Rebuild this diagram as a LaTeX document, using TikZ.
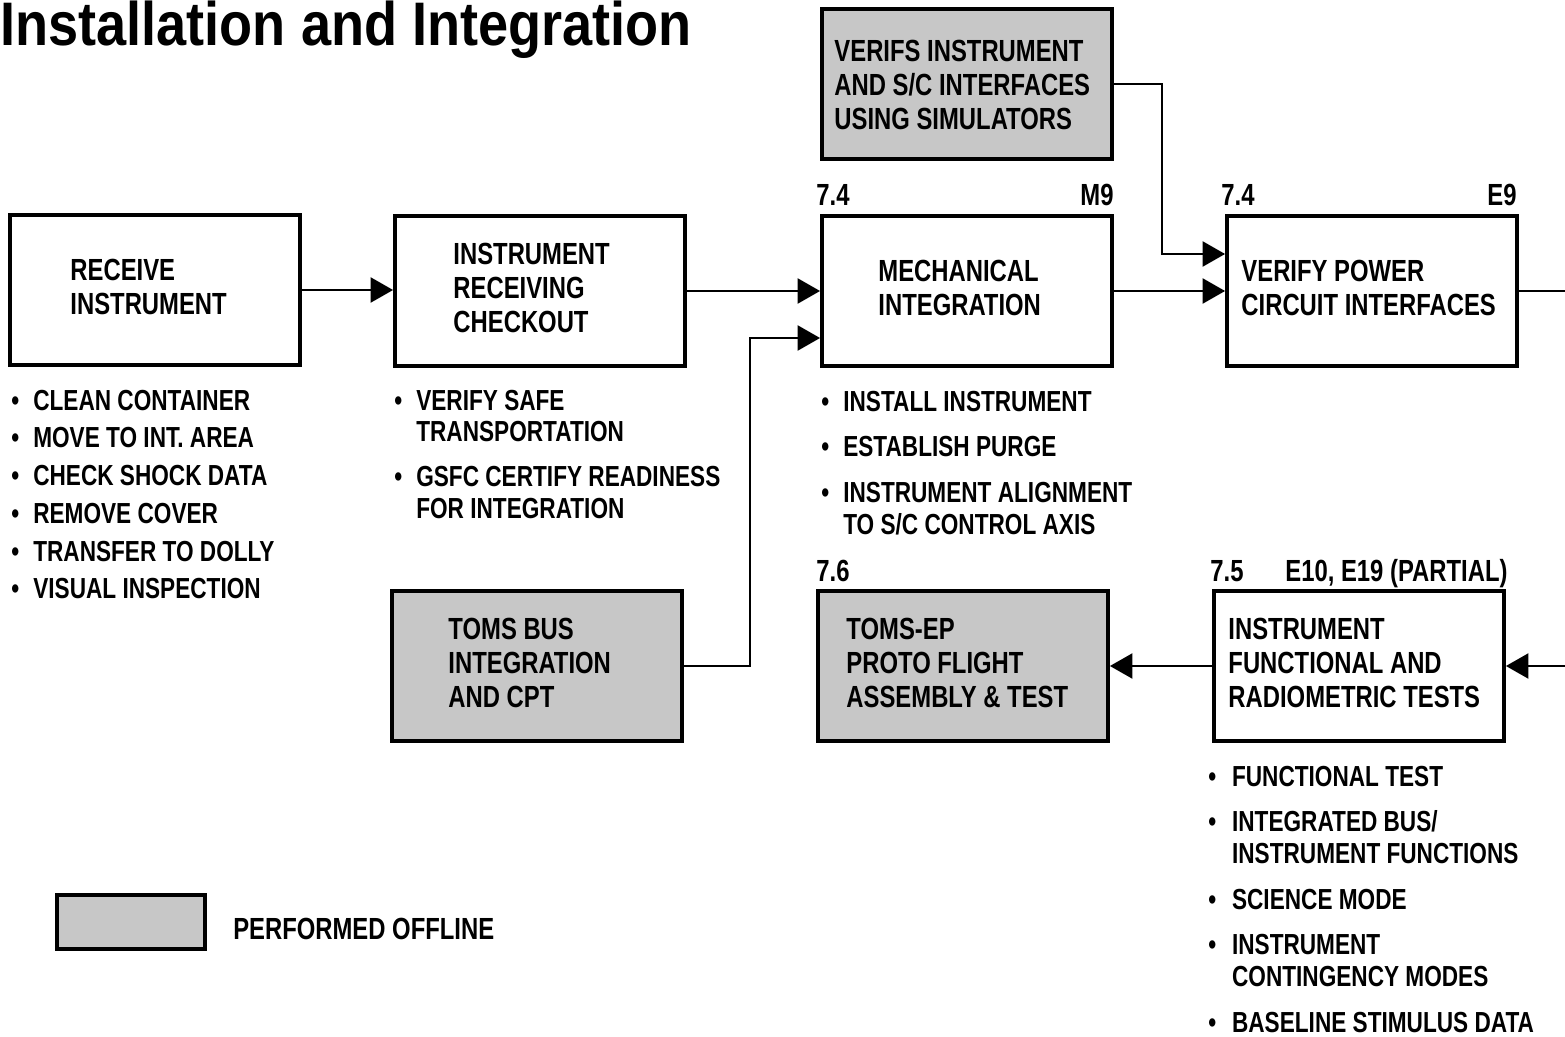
\documentclass[tikz,border=0pt]{standalone}
\usepackage{fontspec}
\setmainfont{Liberation Sans}[FakeStretch=0.78]
\newfontfamily\titlefont{Liberation Sans}[FakeStretch=0.88]
\usetikzlibrary{arrows.meta,calc,positioning}

\begin{document}
\begin{tikzpicture}[x=0.02cm,y=-0.02cm,
	stepbox/.style={draw,line width=2.2pt,minimum width=5.8cm,minimum height=3cm,inner sep=0pt},
	offbox/.style={stepbox,fill=black!22},
	boxtxt/.style={anchor=west,align=left,inner sep=0pt,font=\bfseries\fontsize{17.4}{19.6}\selectfont},
	tag/.style={inner sep=0pt,font=\bfseries\fontsize{17.4}{19.6}\selectfont},
	notes/.style={anchor=base west,inner sep=0pt,font=\bfseries\fontsize{16.5}{18.1}\selectfont},
	flow/.style={line width=1.3pt,-{Triangle[length=0.45cm,width=0.5cm]}},
	wire/.style={line width=1.3pt}]

\useasboundingbox (0,0) rectangle (1565,1037);

\node[anchor=base west,inner sep=0pt,font=\titlefont\bfseries\fontsize{35}{36}\selectfont] (title) at (0,46) {Installation and Integration};

\foreach \n/\x/\y in {recv/155/290,chk/540/291,mech/967/291,pwr/1372/291,func/1359/666}
	\node[stepbox] (\n) at (\x,\y) {};
\foreach \n/\x/\y in {sim/967/84,bus/537/666,ep/963/666}
	\node[offbox] (\n) at (\x,\y) {};

\node[boxtxt] (recvtxt) at ($(recv.west)+(62,-3)$) {RECEIVE\\INSTRUMENT};
\node[boxtxt] (chktxt) at ($(chk.west)+(60,-3)$) {INSTRUMENT\\RECEIVING\\CHECKOUT};
\node[boxtxt] (mechtxt) at ($(mech.west)+(58,-3)$) {MECHANICAL\\INTEGRATION};
\node[boxtxt] (pwrtxt) at ($(pwr.west)+(16,-3)$) {VERIFY POWER\\CIRCUIT INTERFACES};
\node[boxtxt] (simtxt) at ($(sim.west)+(14,1)$) {VERIFS INSTRUMENT\\AND S/C INTERFACES\\USING SIMULATORS};
\node[boxtxt] (bustxt) at ($(bus.west)+(58,-3)$) {TOMS BUS\\INTEGRATION\\AND CPT};
\node[boxtxt] (eptxt) at ($(ep.west)+(30,-3)$) {TOMS-EP\\PROTO FLIGHT\\ASSEMBLY \& TEST};
\node[boxtxt] (functxt) at ($(func.west)+(16,-3)$) {INSTRUMENT\\FUNCTIONAL AND\\RADIOMETRIC TESTS};

% step numbers
\node[tag,anchor=base west] (mechno) at ($(mech.north west)+(-4,-9)$) {7.4};
\node[tag,anchor=base east] (mechid) at ($(mech.north east)+(0,-9)$) {M9};
\node[tag,anchor=base west] (pwrno) at ($(pwr.north west)+(-4,-9)$) {7.4};
\node[tag,anchor=base east] (pwrid) at ($(pwr.north east)+(-2,-9)$) {E9};
\node[tag,anchor=base west] (epno) at ($(ep.north west)+(0,-8)$) {7.6};
\node[tag,anchor=base west] (funcno) at ($(func.north west)+(-2,-8)$) {7.5};
\node[tag,anchor=base east] (funcid) at ($(func.north east)+(2,-8)$) {E10, E19 (PARTIAL)};

\node[notes] (recvlist) at (11,410) {\begin{tabular}[t]{@{}l@{\hspace{8pt}}l@{}}
\textbullet & CLEAN CONTAINER\\[3.4pt]
\textbullet & MOVE TO INT. AREA\\[3.4pt]
\textbullet & CHECK SHOCK DATA\\[3.4pt]
\textbullet & REMOVE COVER\\[3.4pt]
\textbullet & TRANSFER TO DOLLY\\[3.4pt]
\textbullet & VISUAL INSPECTION
\end{tabular}};
\node[notes] (chklist) at (394,410) {\begin{tabular}[t]{@{}l@{\hspace{8pt}}l@{}}
\textbullet & VERIFY SAFE\\
 & TRANSPORTATION\\[7.5pt]
\textbullet & GSFC CERTIFY READINESS\\
 & FOR INTEGRATION
\end{tabular}};
\node[notes] (mechlist) at (821,411) {\begin{tabular}[t]{@{}l@{\hspace{8pt}}l@{}}
\textbullet & INSTALL INSTRUMENT\\[7.9pt]
\textbullet & ESTABLISH PURGE\\[7.9pt]
\textbullet & INSTRUMENT ALIGNMENT\\
 & TO S/C CONTROL AXIS
\end{tabular}};
\node[notes] (funclist) at (1208,786) {\begin{tabular}[t]{@{}l@{\hspace{9pt}}l@{}}
\textbullet & FUNCTIONAL TEST\\[7.9pt]
\textbullet & INTEGRATED BUS/\\
 & INSTRUMENT FUNCTIONS\\[7.9pt]
\textbullet & SCIENCE MODE\\[7.9pt]
\textbullet & INSTRUMENT\\
 & CONTINGENCY MODES\\[7.9pt]
\textbullet & BASELINE STIMULUS DATA
\end{tabular}};

\coordinate (outR) at (1565,291);
\coordinate (inR) at (1565,666);

\draw[flow] (recv.east) -- (recv.east -| chk.west);
\draw[flow] (chk.east) -- (chk.east -| mech.west);
\draw[flow] (bus.east) -- ++(66,0) |- ($(mech.west)+(0,47)$);
\draw[flow] (mech.east) -- (mech.east -| pwr.west);
\draw[flow] (sim.east) -- ++(48,0) |- ($(pwr.west)+(0,-37)$);
\draw[wire] (pwr.east) -- (outR);
\draw[flow] (inR) -- (func.east);
\draw[flow] (func.west) -- (ep.east);

% legend
\node[offbox,minimum width=2.96cm,minimum height=1.08cm] (key) at (131,922) {};
\node[boxtxt] (keytxt) at ($(key.east)+(26,7)$) {PERFORMED OFFLINE};
\end{tikzpicture}
\end{document}
